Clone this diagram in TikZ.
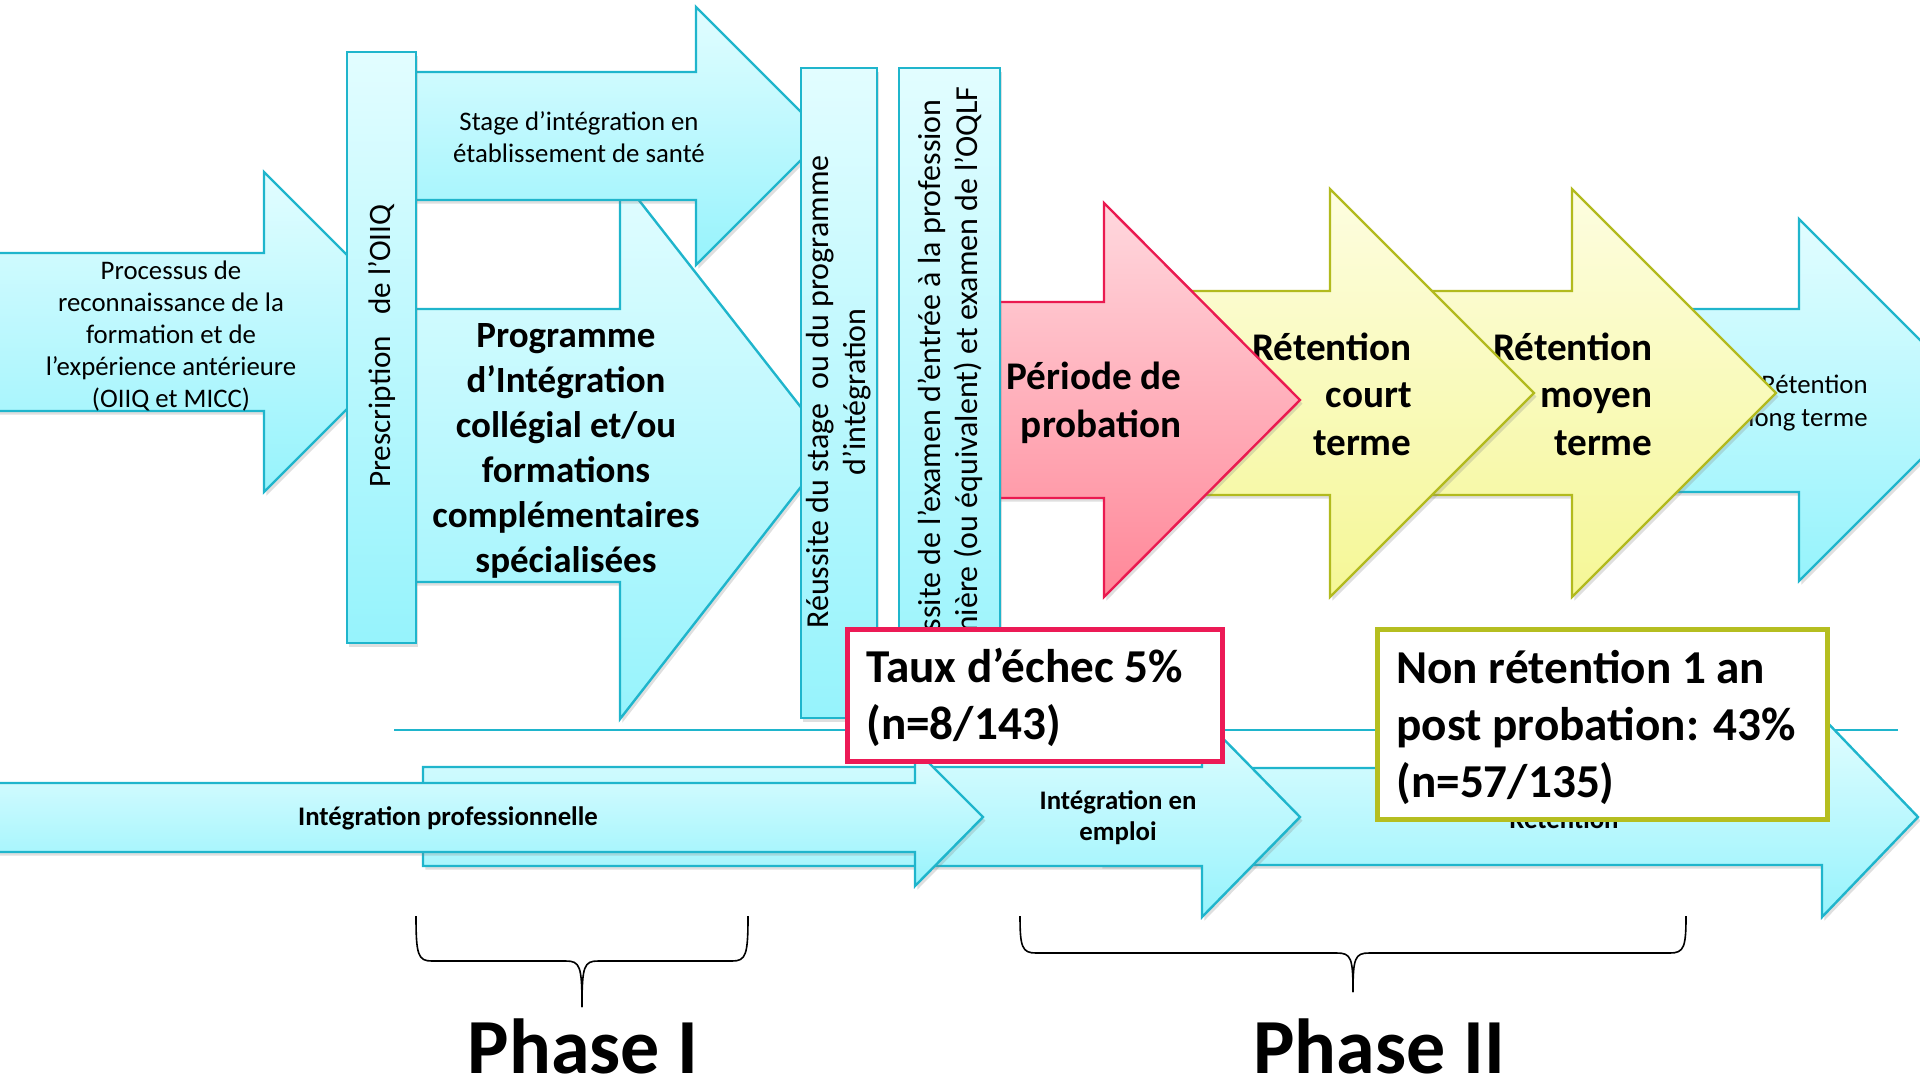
\documentclass[tikz,border=0pt]{standalone}
\usepackage{fontspec}
\setmainfont{Carlito}
\usepackage{tikz}
\usetikzlibrary{shadows}
\definecolor{cyanline}{RGB}{31,181,204}
\definecolor{cyantop}{RGB}{226,253,255}
\definecolor{cyanbot}{RGB}{150,243,252}
\definecolor{yellowline}{RGB}{178,186,30}
\definecolor{yellowtop}{RGB}{253,253,224}
\definecolor{yellowbot}{RGB}{245,247,150}
\definecolor{redline}{RGB}{234,26,80}
\definecolor{redtop}{RGB}{255,216,222}
\definecolor{redbot}{RGB}{255,135,152}
\definecolor{tauxline}{RGB}{236,26,86}
\definecolor{nonline}{RGB}{181,190,32}

\begin{document}
\begin{tikzpicture}[x=0.5pt, y=-0.5pt,
  shadowed/.style={drop shadow={shadow xshift=1.2pt, shadow yshift=-1.8pt, opacity=0.25}},
  cyanarrow/.style={draw=cyanline, line width=1.2pt, top color=cyantop, bottom color=cyanbot, shadowed},
  yellowarrow/.style={draw=yellowline, line width=1.2pt, top color=yellowtop, bottom color=yellowbot, shadowed},
  redarrow/.style={draw=redline, line width=1.2pt, top color=redtop, bottom color=redbot, shadowed},
  bartext/.style={rotate=90, align=center, inner sep=0pt, font=\fontsize{16}{18.5}\selectfont},
  smalltext/.style={align=center, inner sep=0pt, font=\fontsize{13.4}{16}\selectfont},
  smallbold/.style={align=center, inner sep=0pt, font=\fontsize{13.4}{15.5}\selectfont\bfseries},
  bigbold/.style={align=center, inner sep=0pt, font=\fontsize{19.6}{23.8}\selectfont\bfseries},
  boxline/.style={fill=white, line width=2.5pt},
  boxtext/.style={anchor=west, align=left, inner sep=0pt, font=\fontsize{23.6}{28.5}\selectfont\bfseries},
  phase/.style={anchor=base, inner sep=0pt, font=\fontsize{39}{42}\selectfont\bfseries}]
\useasboundingbox (0,0) rectangle (1920,1078);
\clip (0,0) rectangle (1920,1078);

% phase I : arrows
\draw[cyanarrow] (-5,253) -- (264,253) -- (264,172) -- (424,332) -- (264,492) -- (264,411) -- (-5,411) -- cycle;
\node[smalltext] (processus) at (171,336) {Processus de\\reconnaissance de la\\formation et de\\l’expérience antérieure\\(OIIQ et MICC)};
\draw[cyanarrow] (400,309) -- (620,309) -- (620,176) -- (832,447) -- (620,719) -- (620,582) -- (400,582) -- cycle;
\node[align=center, inner sep=0pt, font=\fontsize{18.5}{22.5}\selectfont\bfseries] (programme) at (566,451) {Programme\\d’Intégration\\collégial et/ou\\formations\\complémentaires\\spécialisées};
\draw[cyanarrow] (400,72) -- (696,72) -- (696,7) -- (825,136) -- (696,265) -- (696,200) -- (400,200) -- cycle;
\node[smalltext] (stage) at (579,137) {Stage d’intégration en\\établissement de santé};
\draw[cyanarrow] (347,52) rectangle (416,643);
\node[bartext, font=\fontsize{15.6}{18}\selectfont] (prescription) at (382,346) {Prescription\ \ \ de l’OIIQ};

% phase II : arrows
\draw[cyanarrow] (1620,309) -- (1799,309) -- (1799,219) -- (1980,400) -- (1799,581) -- (1799,492) -- (1620,492) -- cycle;
\node[smalltext, align=right, anchor=east, font=\fontsize{13.4}{16.5}\selectfont] (long) at (1868,403) {Rétention\\long terme};
\draw[yellowarrow] (1380,291) -- (1572,291) -- (1572,189) -- (1776,393) -- (1572,597) -- (1572,495) -- (1380,495) -- cycle;
\node[bigbold, align=right, anchor=east] (moyen) at (1653,394) {Rétention\\moyen\\terme};
\draw[yellowarrow] (1150,291) -- (1330,291) -- (1330,189) -- (1534,393) -- (1330,597) -- (1330,495) -- (1150,495) -- cycle;
\node[bigbold, align=right, anchor=east] (court) at (1412,394) {Rétention\\court\\terme};
\draw[redarrow] (905,302) -- (1104,302) -- (1104,203) -- (1300,400) -- (1104,597) -- (1104,498) -- (905,498) -- cycle;
\node[bigbold, align=right, anchor=east] (probation) at (1182,403) {Période de\\probation};

% vertical bars
\draw[cyanarrow] (801,68) rectangle (877,718);
\node[bartext] (reussite) at (839,392) {Réussite du stage\ \ ou du programme\\d’intégration};
\draw[cyanarrow] (899,68) rectangle (1000,718);
\node[bartext] (examen) at (950,390) {Réussite de l’examen d’entrée à la profession\\infirmière (ou équivalent) et examen de l’OQLF};

\draw[cyanline, line width=1pt] (394,730) -- (1898,730);

% bottom arrows
\draw[cyanarrow] (1100,768) -- (1822,768) -- (1822,717) -- (1918,817) -- (1822,917) -- (1822,865) -- (1100,865) -- cycle;
\node[smallbold, anchor=base] (retention) at (1564,828) {Rétention};
\draw[cyanarrow] (423,767) -- (1202,767) -- (1202,717) -- (1300,817) -- (1202,917) -- (1202,866) -- (423,866) -- cycle;
\node[smallbold] (emploi) at (1118,818) {Intégration en\\emploi};
\draw[cyanarrow] (-5,783) -- (915,783) -- (915,749) -- (983,817) -- (915,886) -- (915,852) -- (-5,852) -- cycle;
\node[smallbold] (integration) at (448,818) {Intégration professionnelle};

% result boxes
\draw[boxline, draw=tauxline] (847.5,629.5) rectangle (1222.5,761.5);
\node[boxtext] (taux) at (866,697) {Taux d’échec 5\%\\(n=8/143)};
\draw[boxline, draw=nonline] (1377.5,629.5) rectangle (1827.5,819.5);
\node[boxtext] (non) at (1396,727) {Non rétention 1 an\\post probation: 43\%\\(n=57/135)};

% braces
\draw[line width=0.8pt] (416,916) .. controls (416,955) and (418,961) .. (432,961) -- (566,961) .. controls (580,961) and (582,966) .. (582,1007);
\draw[line width=0.8pt] (748,916) .. controls (748,955) and (746,961) .. (732,961) -- (598,961) .. controls (584,961) and (582,966) .. (582,1007);
\node[phase] (phaseI) at (583,1073) {Phase I};
\draw[line width=0.8pt] (1020,916) .. controls (1020,947) and (1022,953) .. (1036,953) -- (1337,953) .. controls (1351,953) and (1353,958) .. (1353,992);
\draw[line width=0.8pt] (1686,916) .. controls (1686,947) and (1684,953) .. (1670,953) -- (1369,953) .. controls (1355,953) and (1353,958) .. (1353,992);
\node[phase] (phaseII) at (1379,1073) {Phase II};
\end{tikzpicture}
\end{document}
